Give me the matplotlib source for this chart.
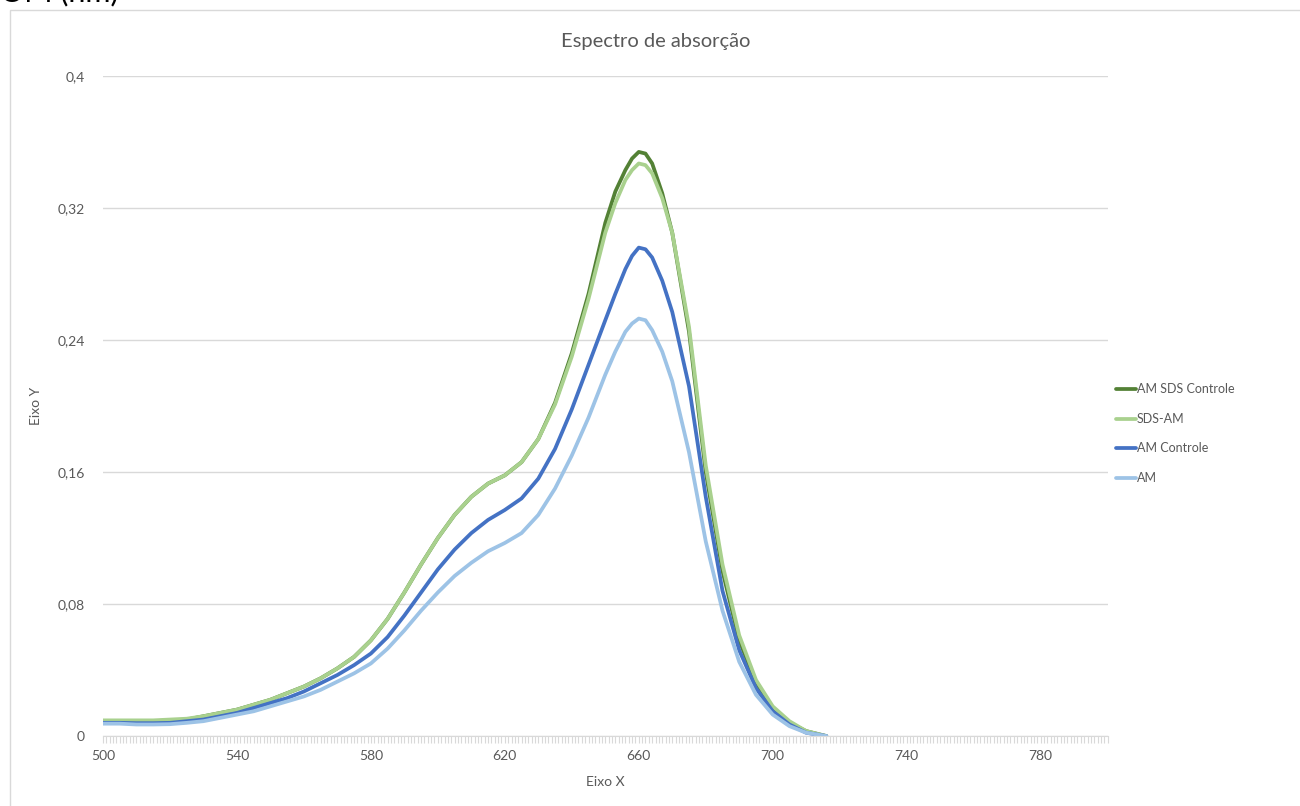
import matplotlib
matplotlib.use("Agg")
import matplotlib.pyplot as plt
from matplotlib.patches import Rectangle
from matplotlib.ticker import MultipleLocator, FuncFormatter

plt.rcParams['font.family'] = ['Lato', 'DejaVu Sans']

wavelength = [500, 505, 510, 515, 520, 525, 530, 535, 540, 545, 550, 555, 560, 565, 570, 575,
              580, 585, 590, 595, 600, 605, 610, 615, 620, 625, 630, 635, 640, 645, 650, 653,
              656, 658, 660, 662, 664, 667, 670, 675, 680, 685, 690, 695, 700, 705, 710, 716]

am_sds_controle = [0.009, 0.009, 0.009, 0.009, 0.0095, 0.010, 0.012, 0.014, 0.016, 0.019, 0.022,
                   0.026, 0.030, 0.035, 0.041, 0.048, 0.058, 0.071, 0.087, 0.104, 0.120, 0.134,
                   0.145, 0.153, 0.158, 0.166, 0.180, 0.202, 0.232, 0.268, 0.311, 0.330, 0.343,
                   0.350, 0.354, 0.353, 0.347, 0.329, 0.305, 0.245, 0.160, 0.100, 0.058, 0.032,
                   0.017, 0.008, 0.003, 0.0]

sds_am = [0.0095, 0.0095, 0.0095, 0.0095, 0.010, 0.0105, 0.012, 0.014, 0.016, 0.019, 0.022,
          0.026, 0.030, 0.035, 0.041, 0.048, 0.058, 0.071, 0.087, 0.104, 0.120, 0.134,
          0.145, 0.153, 0.158, 0.166, 0.180, 0.201, 0.230, 0.265, 0.305, 0.323, 0.337,
          0.343, 0.347, 0.346, 0.341, 0.326, 0.305, 0.248, 0.164, 0.104, 0.061, 0.034,
          0.018, 0.009, 0.003, 0.0]

am_controle = [0.008, 0.008, 0.0078, 0.0078, 0.008, 0.009, 0.010, 0.012, 0.014, 0.017, 0.020,
               0.023, 0.027, 0.032, 0.037, 0.043, 0.050, 0.060, 0.073, 0.087, 0.101, 0.113,
               0.123, 0.131, 0.137, 0.144, 0.156, 0.174, 0.198, 0.225, 0.252, 0.268, 0.283,
               0.291, 0.296, 0.295, 0.290, 0.276, 0.257, 0.212, 0.145, 0.088, 0.052, 0.029,
               0.015, 0.007, 0.002, 0.0]

am = [0.0075, 0.0075, 0.007, 0.007, 0.0072, 0.008, 0.009, 0.011, 0.013, 0.015, 0.018,
      0.021, 0.024, 0.028, 0.033, 0.038, 0.044, 0.053, 0.064, 0.076, 0.087, 0.097,
      0.105, 0.112, 0.117, 0.123, 0.134, 0.150, 0.170, 0.193, 0.219, 0.233, 0.245,
      0.250, 0.253, 0.252, 0.246, 0.233, 0.215, 0.172, 0.118, 0.076, 0.045, 0.025,
      0.013, 0.006, 0.002, 0.0]

series_names = ['AM SDS Controle', 'SDS-AM', 'AM Controle', 'AM']
series_colors = ['#538135', '#A9D18E', '#4472C4', '#9DC3E6']
y_ticks = [0, 0.08, 0.16, 0.24, 0.32, 0.4]
x_ticks = [500, 540, 580, 620, 660, 700, 740, 780]

fig = plt.figure(figsize=(13, 8.06), dpi=100)
ax = fig.add_axes([0.0792, 0.0868, 0.7728, 0.8189])

for vals, name, col in zip([am_sds_controle, sds_am, am_controle, am], series_names, series_colors):
    ax.plot(wavelength, vals, color=col, lw=2.7, label=name,
            solid_capstyle='round', solid_joinstyle='round')

ax.set_xlim(500, 800)
ax.set_ylim(0, 0.4)
ax.set_yticks(y_ticks)
ax.yaxis.set_major_formatter(FuncFormatter(lambda v, p: ('%g' % v).replace('.', ',')))
ax.set_xticks(x_ticks)
ax.xaxis.set_minor_locator(MultipleLocator(1))
ax.grid(axis='y', color='#D9D9D9', lw=1)
ax.set_axisbelow(True)
for s in ['top', 'right', 'left']:
    ax.spines[s].set_visible(False)
ax.spines['bottom'].set_color('#D9D9D9')
ax.tick_params(axis='y', length=0, pad=13, labelsize=10, labelcolor='#595959')
ax.tick_params(axis='x', which='major', length=5, color='#D9D9D9', labelsize=10,
               labelcolor='#595959', pad=5)
ax.tick_params(axis='x', which='minor', length=5, color='#D9D9D9', width=0.8)

ax.set_xlabel('Eixo X', fontsize=10, color='#595959', labelpad=10)
ax.set_ylabel('Eixo Y', fontsize=10, color='#595959')
ax.yaxis.set_label_coords(-0.0607, 0.5)
fig.text(0.504, 0.948, 'Espectro de absorção', ha='center', va='center', fontsize=14.5, color='#595959')

leg = ax.legend(loc='center left', bbox_to_anchor=(1.0, 0.458), frameon=False, fontsize=9,
                handlelength=1.6, handletextpad=0.05, labelspacing=1.4, borderaxespad=0.3,
                labelcolor='#595959')

fig.patches.append(Rectangle((10 / 1300, -0.01), 1.0, 1 - 10 / 806 + 0.01, transform=fig.transFigure,
                             fill=False, edgecolor='#D9D9D9', lw=1))
fig.text(0.0, 1.01, 'OM (nm)', ha='left', va='center', fontsize=22, color='black')

fig.savefig('out.png', dpi=100)
